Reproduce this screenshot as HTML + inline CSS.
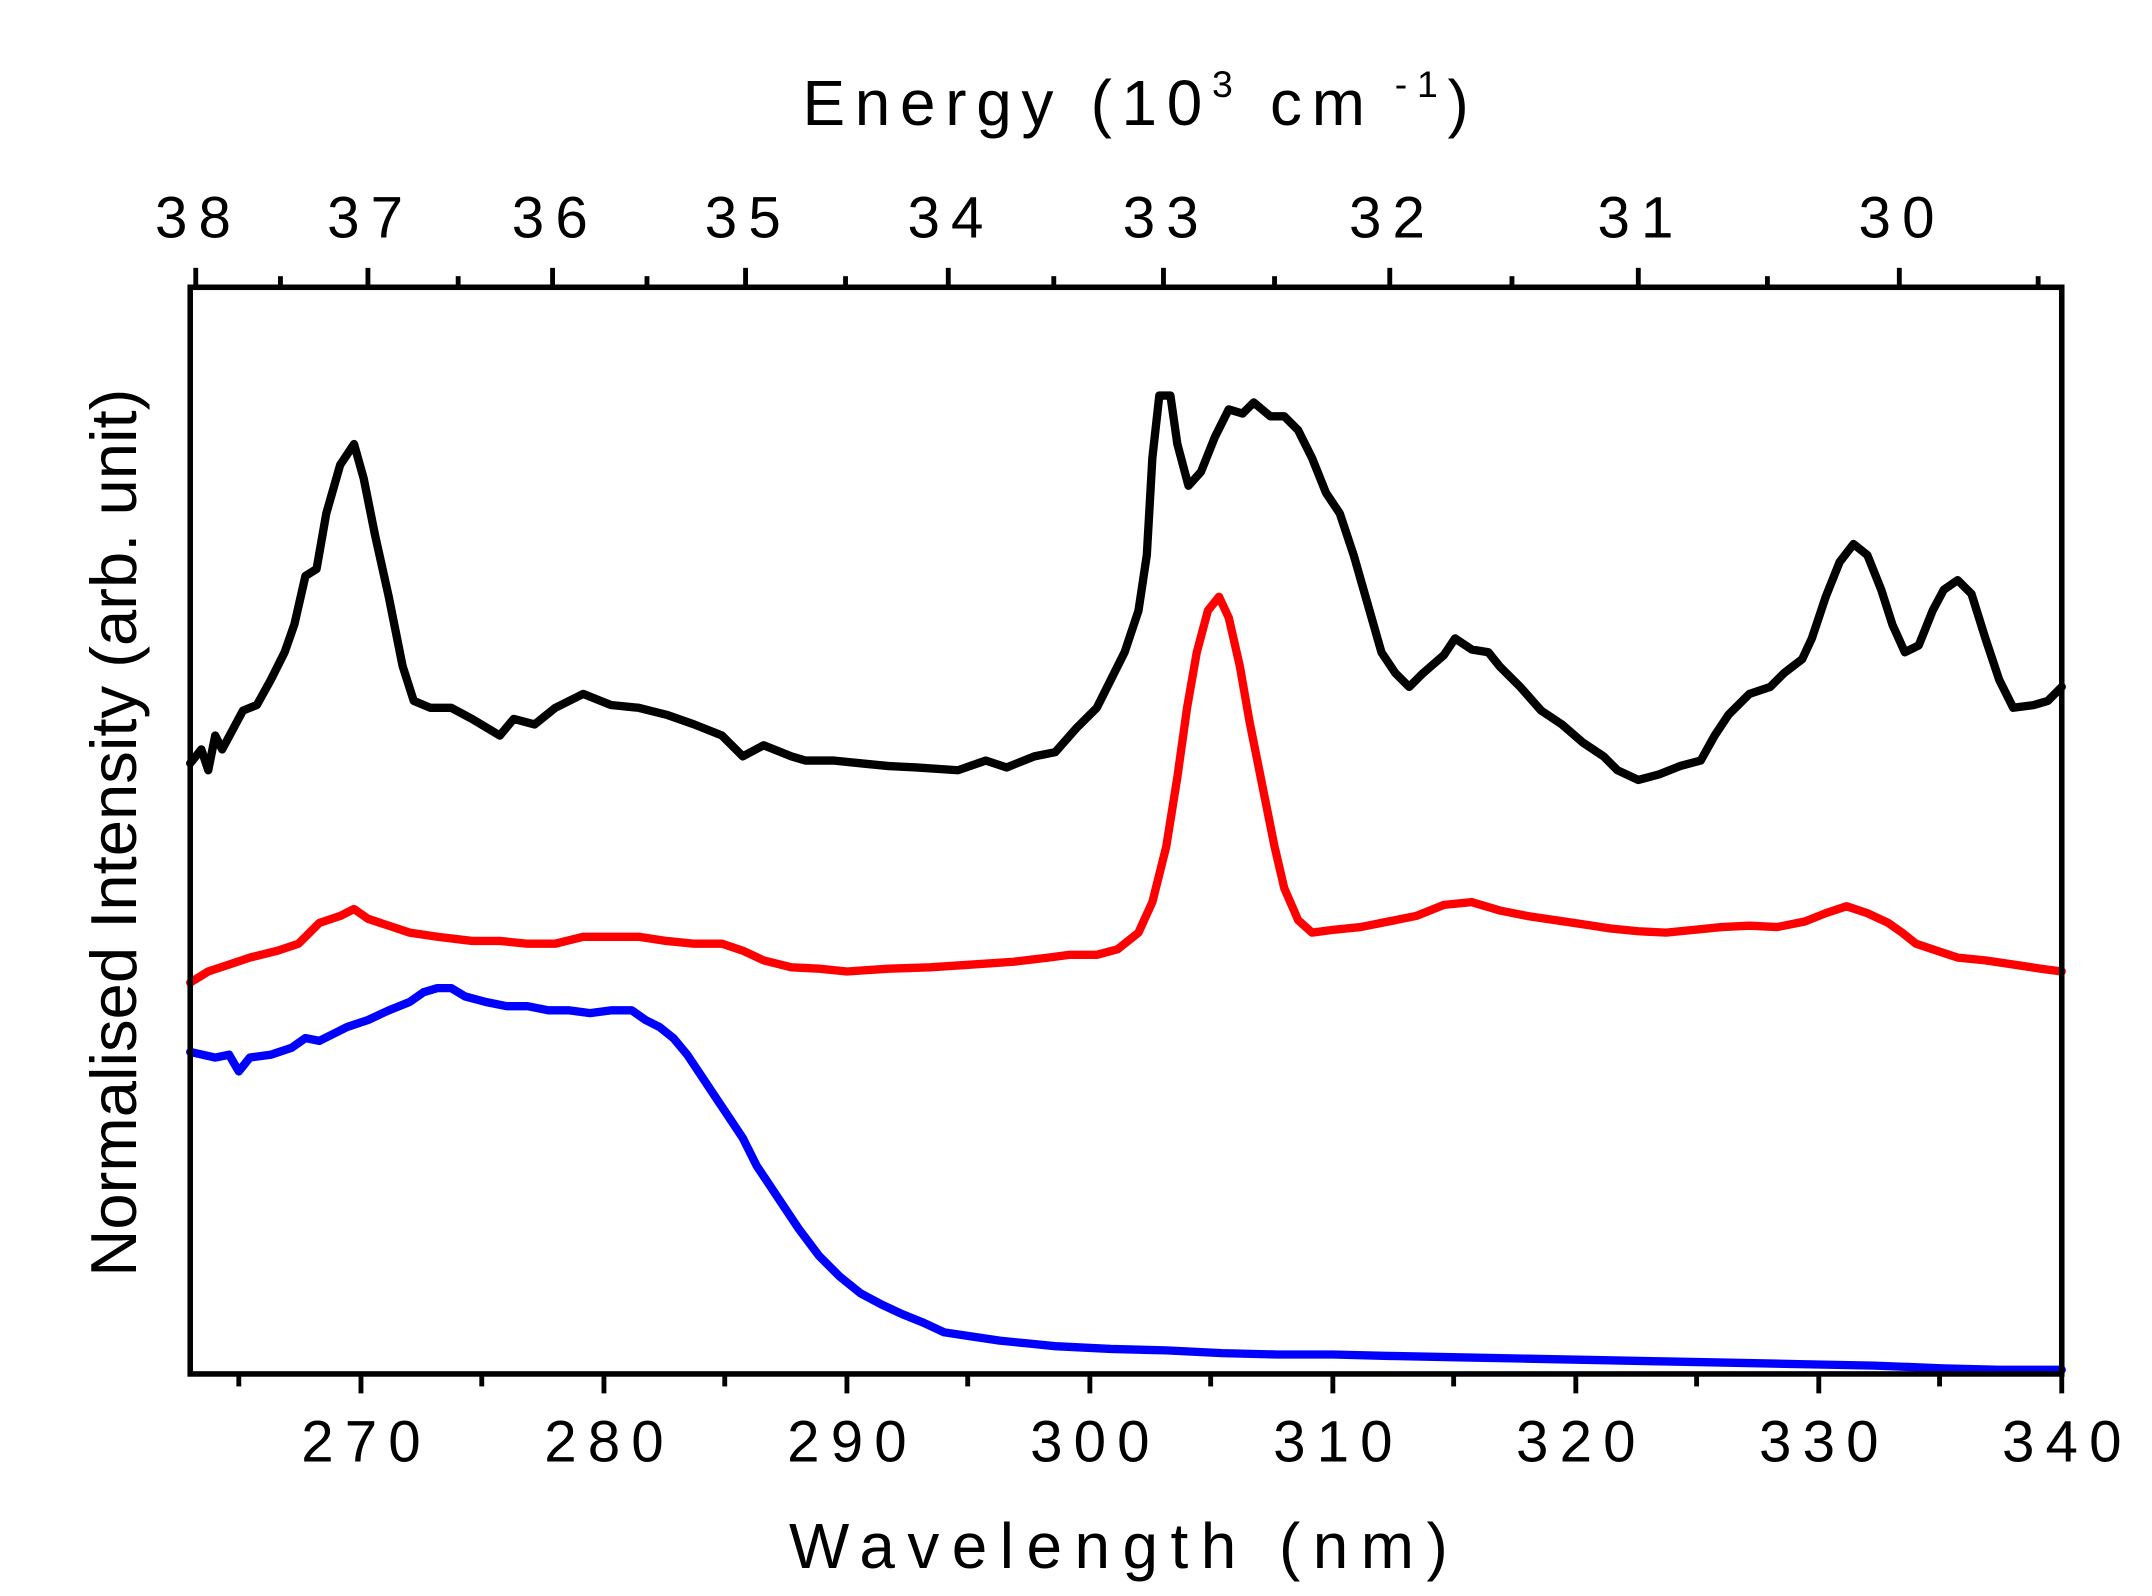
<!DOCTYPE html>
<html><head><style>html,body{margin:0;padding:0;background:#fff;}svg{display:block}</style></head><body>
<svg width="2152" height="1596" viewBox="0 0 1550 1150" preserveAspectRatio="none" xmlns="http://www.w3.org/2000/svg" font-family="Liberation Sans, Arial, sans-serif">
<rect width="1550" height="1150" fill="#fff"/>
<g fill="none" stroke-linejoin="round" stroke-linecap="round" stroke-width="6">
<polyline stroke="#000" points="137,550 145,540 150,555 155,530 160,540 175,512 185,508 195,490 205,470 212,450 220,415 228,410 235,370 245,335 255,320 262,345 270,385 280,430 290,480 298,505 310,510 325,510 340,518 360,530 370,518 385,522 400,510 420,500 440,508 460,510 480,515 500,522 520,530 535,545 550,537 570,545 580,548 600,548 620,550 640,552 660,553 690,555 710,548 725,553 745,545 760,542 775,525 790,510 800,490 810,470 820,440 826,400 830,330 835,285 843,285 848,320 856,350 865,340 875,315 885,295 895,298 903,290 915,300 925,300 935,310 945,330 955,355 965,370 975,400 985,435 995,470 1005,485 1015,495 1025,485 1040,472 1048,460 1060,468 1072,470 1080,480 1095,495 1110,512 1125,522 1140,535 1155,545 1165,555 1180,562 1195,558 1210,552 1225,548 1235,530 1245,515 1260,500 1275,495 1285,485 1298,475 1305,460 1315,430 1325,405 1335,392 1345,400 1355,425 1363,450 1372,470 1382,465 1392,440 1400,425 1410,418 1420,428 1430,460 1440,490 1450,510 1465,508 1475,505 1485,495"/>
<polyline stroke="#f00" points="137,708 150,700 165,695 180,690 200,685 215,680 230,665 245,660 255,655 265,662 280,667 295,672 315,675 340,678 360,678 380,680 400,680 420,675 440,675 460,675 480,678 500,680 520,680 535,685 550,692 570,697 590,698 610,700 640,698 670,697 700,695 730,693 755,690 770,688 790,688 805,684 820,672 830,650 840,610 848,560 855,510 862,470 870,440 878,430 885,445 893,480 900,520 910,570 918,610 925,640 935,663 945,672 960,670 980,668 1000,664 1020,660 1040,652 1060,650 1080,656 1100,660 1120,663 1140,666 1160,669 1180,671 1200,672 1220,670 1240,668 1260,667 1280,668 1300,664 1315,658 1330,653 1345,658 1360,665 1370,672 1380,680 1395,685 1410,690 1430,692 1450,695 1470,698 1485,700"/>
<polyline stroke="#00f" points="137,758 155,762 165,760 172,772 180,762 195,760 210,755 220,748 230,750 240,745 250,740 265,735 280,728 295,722 305,715 315,712 325,712 335,718 350,722 365,725 380,725 395,728 410,728 425,730 440,728 455,728 465,735 475,740 485,748 495,760 505,775 515,790 525,805 535,820 545,840 555,855 565,870 575,885 590,905 605,920 620,932 635,940 650,947 665,953 680,960 700,963 720,966 740,968 760,970 800,972 840,973 880,975 920,976 960,976 1000,977 1050,978 1100,979 1150,980 1200,981 1250,982 1300,983 1350,984 1400,986 1440,987 1485,987"/>
</g>
<rect x="137" y="207" width="1348" height="783" fill="none" stroke="#000" stroke-width="4"/>
<g stroke="#000" stroke-width="3.5">
<line x1="260" y1="990" x2="260" y2="1004"/><line x1="435" y1="990" x2="435" y2="1004"/><line x1="610" y1="990" x2="610" y2="1004"/><line x1="785" y1="990" x2="785" y2="1004"/><line x1="960" y1="990" x2="960" y2="1004"/><line x1="1135" y1="990" x2="1135" y2="1004"/><line x1="1310" y1="990" x2="1310" y2="1004"/><line x1="1485" y1="990" x2="1485" y2="1004"/>
<line x1="172" y1="990" x2="172" y2="999"/><line x1="347" y1="990" x2="347" y2="999"/><line x1="522" y1="990" x2="522" y2="999"/><line x1="697" y1="990" x2="697" y2="999"/><line x1="872" y1="990" x2="872" y2="999"/><line x1="1047" y1="990" x2="1047" y2="999"/><line x1="1222" y1="990" x2="1222" y2="999"/><line x1="1397" y1="990" x2="1397" y2="999"/>
<line x1="141" y1="207" x2="141" y2="193"/><line x1="265" y1="207" x2="265" y2="193"/><line x1="398" y1="207" x2="398" y2="193"/><line x1="537" y1="207" x2="537" y2="193"/><line x1="683" y1="207" x2="683" y2="193"/><line x1="838" y1="207" x2="838" y2="193"/><line x1="1001" y1="207" x2="1001" y2="193"/><line x1="1180" y1="207" x2="1180" y2="193"/><line x1="1368" y1="207" x2="1368" y2="193"/>
<line x1="202" y1="207" x2="202" y2="199"/><line x1="330" y1="207" x2="330" y2="199"/><line x1="466" y1="207" x2="466" y2="199"/><line x1="609" y1="207" x2="609" y2="199"/><line x1="759" y1="207" x2="759" y2="199"/><line x1="918" y1="207" x2="918" y2="199"/><line x1="1089" y1="207" x2="1089" y2="199"/><line x1="1273" y1="207" x2="1273" y2="199"/><line x1="1468" y1="207" x2="1468" y2="199"/>
</g>
<g font-size="42" text-anchor="middle" letter-spacing="8" fill="#000">
<text x="264" y="1053">270</text><text x="439" y="1053">280</text><text x="614" y="1053">290</text><text x="789" y="1053">300</text><text x="964" y="1053">310</text><text x="1139" y="1053">320</text><text x="1314" y="1053">330</text><text x="1489" y="1053">340</text>
<text x="143" y="171">38</text><text x="267" y="171">37</text><text x="400" y="171">36</text><text x="539" y="171">35</text><text x="685" y="171">34</text><text x="840" y="171">33</text><text x="1003" y="171">32</text><text x="1182" y="171">31</text><text x="1370" y="171">30</text>
</g>
<text x="810" y="1130" font-size="46" text-anchor="middle" letter-spacing="9">Wavelength (nm)</text>
<text x="578" y="90" font-size="46" letter-spacing="7">Energy (10<tspan font-size="27" dy="-20">3</tspan><tspan dy="20"> cm</tspan><tspan font-size="27" dy="-20"> -1</tspan><tspan dy="20">)</tspan></text>
<text transform="translate(98,600) rotate(-90)" font-size="47" text-anchor="middle">Normalised Intensity (arb. unit)</text>
</svg>
</body></html>
